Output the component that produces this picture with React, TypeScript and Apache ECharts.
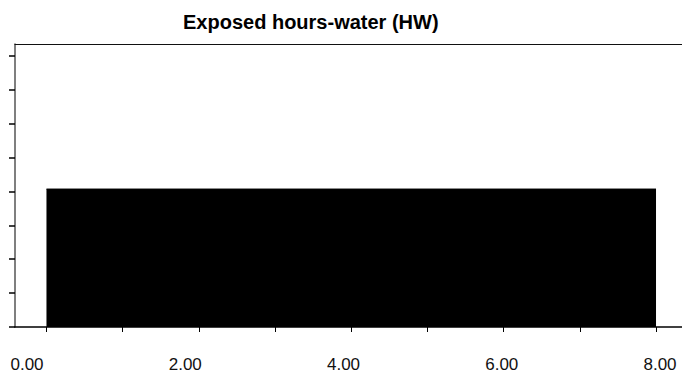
import React, { useEffect, useRef } from "react";
import * as echarts from "echarts";

const titleText = "Exposed hours-water (HW)";
const hoursX = [0, 8];
const hwValues = [4.07, 4.07];
const xTickValues = [0, 1, 2, 3, 4, 5, 6, 7, 8];
const xLabelValues = [0, 2, 4, 6, 8];
const yTickValues = [0, 1, 2, 3, 4, 5, 6, 7, 8];

export default function App() {
  const ref = useRef<HTMLDivElement>(null);
  useEffect(() => {
    if (!ref.current) return;
    const chart = echarts.init(ref.current, undefined, { renderer: "svg" });
    const seriesData = hoursX.map((x, i) => [x, hwValues[i]]);
    chart.setOption({
      animation: false,
      backgroundColor: "#ffffff",
      title: {
        text: titleText,
        left: 178,
        top: 7,
        textStyle: {
          fontFamily: "Liberation Sans, Arial, sans-serif",
          fontWeight: "bold",
          fontSize: 20,
          color: "#000",
        },
      },
      grid: { left: 15, right: 0, top: 44, bottom: 52 },
      xAxis: [
        {
          type: "value",
          min: -0.413,
          max: 8.341,
          position: "bottom",
          axisLine: { show: true, onZero: false, lineStyle: { color: "#000", width: 1.5 } },
          axisTick: { show: true, customValues: xTickValues, length: 5, lineStyle: { color: "#000" } },
          axisLabel: { show: false },
          splitLine: { show: false },
        },
        {
          type: "value",
          min: -0.1516,
          max: 8.278,
          position: "bottom",
          axisLine: { show: false },
          axisTick: { show: false },
          axisLabel: {
            show: true,
            customValues: xLabelValues,
            formatter: (v: number) => v.toFixed(2),
            fontSize: 17,
            margin: 29,
            color: "#111",
            fontFamily: "Liberation Sans, Arial, sans-serif",
          },
          splitLine: { show: false },
        },
        {
          type: "value",
          min: -0.413,
          max: 8.341,
          position: "top",
          axisLine: { show: true, onZero: false, lineStyle: { color: "#111", width: 1.2 } },
          axisTick: { show: false },
          axisLabel: { show: false },
          splitLine: { show: false },
        },
      ],
      yAxis: {
        type: "value",
        min: 0,
        max: 8.35,
        axisLine: { show: true, onZero: false, lineStyle: { color: "#555", width: 1.5 } },
        axisTick: { show: true, customValues: yTickValues, length: 6, lineStyle: { color: "#000", width: 1.5 } },
        axisLabel: { show: false },
        splitLine: { show: false },
      },
      series: [
        {
          type: "line",
          xAxisIndex: 0,
          data: seriesData,
          symbol: "none",
          lineStyle: { color: "#000", width: 1 },
          areaStyle: { color: "#000", opacity: 1 },
        },
      ],
    });
    return () => chart.dispose();
  }, []);
  return (
    <div
      ref={ref}
      style={{ position: "absolute", left: 0, top: 0, width: 682, height: 379 }}
    />
  );
}
